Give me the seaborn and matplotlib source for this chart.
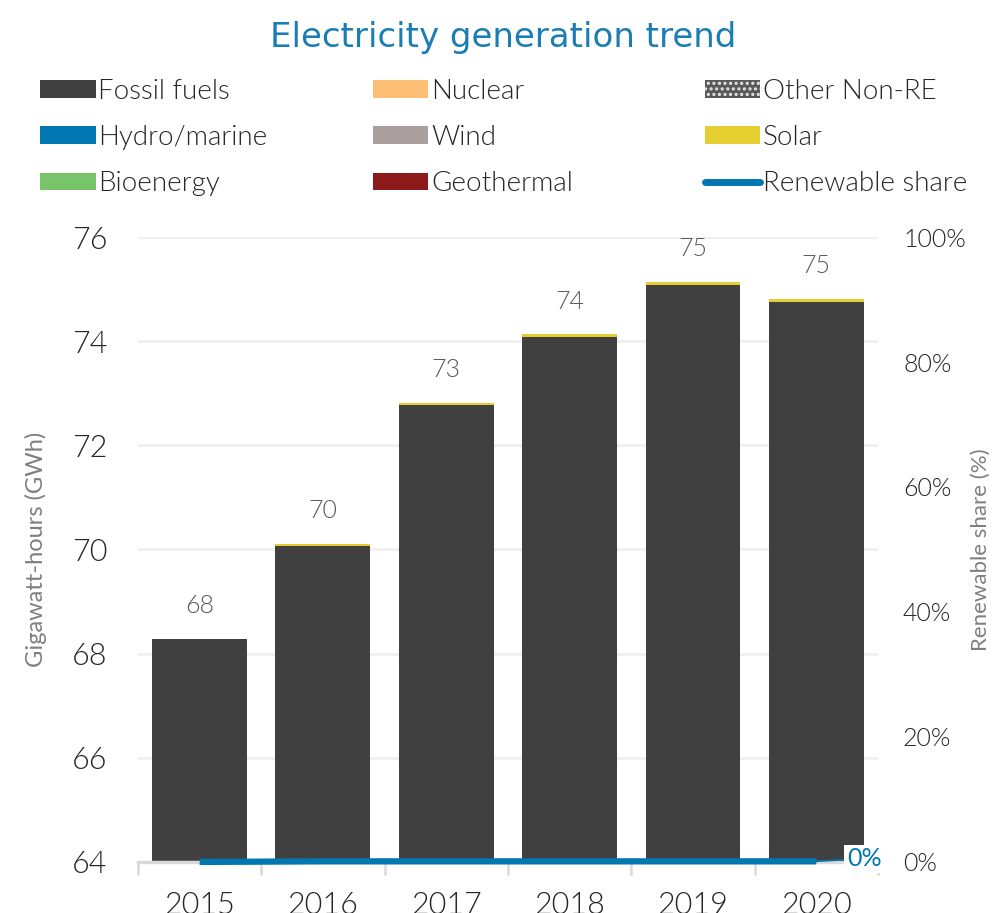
import numpy as np
import pandas as pd
import matplotlib
matplotlib.use("Agg")
import matplotlib.pyplot as plt
from matplotlib.patches import Patch
from matplotlib.lines import Line2D
import seaborn as sns

# =============================================
# DATA
# =============================================
years = ["2015", "2016", "2017", "2018", "2019", "2020"]
fossil_fuels = [68.28, 70.06, 72.77, 74.08, 75.08, 74.76]
nuclear = [0, 0, 0, 0, 0, 0]
other_non_re = [0, 0, 0, 0, 0, 0]
hydro_marine = [0, 0, 0, 0, 0, 0]
wind = [0, 0, 0, 0, 0, 0]
solar = [0.0, 0.05, 0.05, 0.05, 0.05, 0.05]
bioenergy = [0, 0, 0, 0, 0, 0]
geothermal = [0, 0, 0, 0, 0, 0]
renewable_share = [0.0, 0.001, 0.001, 0.001, 0.001, 0.001]

series_names = ["Fossil fuels", "Nuclear", "Other Non-RE", "Hydro/marine",
                "Wind", "Solar", "Bioenergy", "Geothermal"]
series_values = [fossil_fuels, nuclear, other_non_re, hydro_marine,
                 wind, solar, bioenergy, geothermal]
colors = {
    "Fossil fuels": "#404040",
    "Nuclear": "#fdbf75",
    "Other Non-RE": "#595959",
    "Hydro/marine": "#0077b0",
    "Wind": "#aa9e9e",
    "Solar": "#e5cf30",
    "Bioenergy": "#78c46a",
    "Geothermal": "#8c1a1a",
}
line_color = "#0077b0"
title_color = "#1a7db5"
text_grey = "#262626"
label_grey = "#7f7f7f"

# =============================================
# STYLE
# =============================================
sns.set_theme(style="white")
plt.rcParams["font.family"] = ["Lato", "DejaVu Sans"]
plt.rcParams["font.weight"] = 300
plt.rcParams["hatch.linewidth"] = 1.5

fig = plt.figure(figsize=(9.94, 9.13), dpi=100)
ax = fig.add_axes([0.1388, 0.0559, 0.7445, 0.6845])

df = pd.DataFrame({"year": years})
for name, vals in zip(series_names, series_values):
    df[name] = vals
cum = df[series_names].cumsum(axis=1)

# stacked bars: draw cumulative totals from the top of the stack down
for name in reversed(series_names):
    sns.barplot(x=df["year"], y=cum[name], color=colors[name], width=0.77,
                ax=ax, linewidth=0, saturation=1)

totals = cum[series_names[-1]]
ax.bar_label(ax.containers[0], labels=[f"{v:.0f}" for v in totals],
             padding=15, fontsize=18, color="#595959", fontweight=300)

ax.set_ylim(64, 76)
ax.set_xlim(-0.5, 5.5)
ax.set_yticks(np.arange(64, 77, 2))
ax.yaxis.grid(True, color="#f0f0f0", linewidth=2.2)
ax.set_axisbelow(True)
for s in ["left", "right", "top"]:
    ax.spines[s].set_visible(False)
ax.spines["bottom"].set_color("#d9d9d9")
ax.spines["bottom"].set_linewidth(2.5)

ax.set_xticks(np.arange(-0.5, 6, 1), minor=True)
ax.tick_params(axis="x", which="minor", length=9, width=1.8, color="#d9d9d9", bottom=True)
ax.tick_params(axis="x", which="major", length=0, pad=21, labelsize=22, labelcolor=text_grey)
ax.tick_params(axis="y", length=0, pad=22, labelsize=22, labelcolor=text_grey)
ax.set_xlabel("")
ax.set_ylabel("Gigawatt-hours (GWh)", fontsize=17, color=label_grey, labelpad=18)

# renewable share on the secondary axis
ax2 = ax.twinx()
sns.lineplot(x=np.arange(len(years)), y=renewable_share, ax=ax2,
             color=line_color, linewidth=4.5, solid_capstyle="butt", clip_on=False)
ax2.set_ylim(0, 1)
ax2.set_yticks(np.arange(0, 1.01, 0.2))
ax2.set_yticklabels([f"{v:.0%}" for v in np.arange(0, 1.01, 0.2)])
ax2.tick_params(axis="y", length=0, pad=18, labelsize=18, labelcolor=text_grey)
for s in ax2.spines.values():
    s.set_visible(False)
ax2.set_ylabel("Renewable share (%)", fontsize=16, color=label_grey, labelpad=4)
ax2.annotate(f"{renewable_share[-1]:.0%}", xy=(5, renewable_share[-1]),
             xytext=(22, 2), textcoords="offset points", va="center", ha="left",
             fontsize=18, color=line_color, fontweight="normal",
             bbox=dict(boxstyle="square,pad=0.1", fc="white", ec="none"),
             arrowprops=dict(arrowstyle="-", color=line_color, lw=1.2,
                             shrinkA=0, shrinkB=0))

fig.suptitle("Electricity generation trend", x=0.506, y=0.977, fontsize=24.5,
             color=title_color, fontweight="normal", family=["DejaVu Sans"])

# =============================================
# LEGEND (three columns placed side by side)
# =============================================
def make_handle(name):
    if name == "Other Non-RE":
        return Patch(facecolor=colors[name], edgecolor="#e8e8e8", hatch="...", linewidth=0)
    return Patch(facecolor=colors[name], linewidth=0)

legend_cols = [
    ["Fossil fuels", "Hydro/marine", "Bioenergy"],
    ["Nuclear", "Wind", "Geothermal"],
    ["Other Non-RE", "Solar", "Renewable share"],
]
col_x = [0.0402, 0.375, 0.709]
for xpos, names in zip(col_x, legend_cols):
    handles = []
    for n in names:
        if n == "Renewable share":
            handles.append(Line2D([0], [0], color=line_color, linewidth=5,
                                  solid_capstyle="round"))
        else:
            handles.append(make_handle(n))
    fig.legend(handles, names, loc="upper left", bbox_to_anchor=(xpos, 0.914),
               frameon=False, handlelength=2.0, handleheight=0.6,
               handletextpad=0.1, labelspacing=0.77, borderaxespad=0,
               borderpad=0, prop={"size": 20, "weight": 300},
               labelcolor="#262626")

fig.savefig("out.png", dpi=100)
